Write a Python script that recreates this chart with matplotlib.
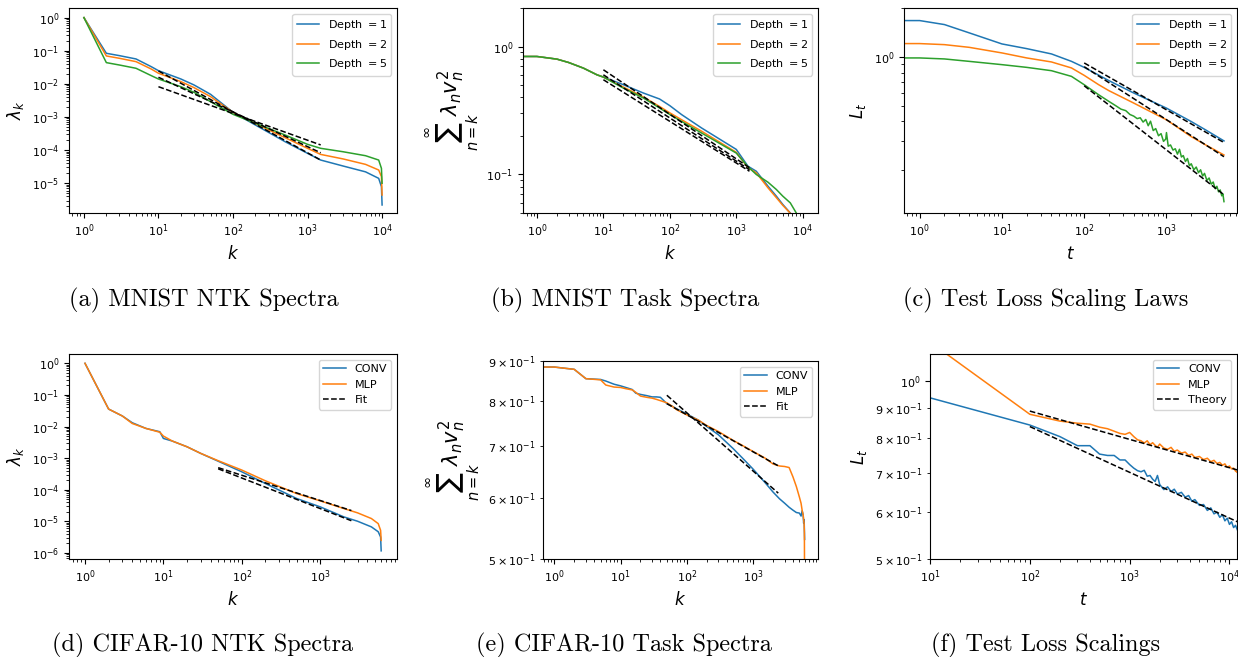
import matplotlib
matplotlib.use("Agg")
import matplotlib.pyplot as plt
from matplotlib.ticker import NullFormatter

# ---------------- (a) MNIST NTK spectra ----------------
k_a = [1, 2, 3, 5, 8, 10, 20, 30, 50, 100, 200, 500, 1000, 1500, 3000, 6000, 9000, 9800, 10000]
lam_a_d1 = [1, 0.0836, 0.071, 0.0564, 0.033, 0.025, 0.014, 0.00925, 0.00483, 0.00138, 5.7e-4, 1.79e-4,
            7.97e-5, 5.0e-5, 3.3e-5, 2.2e-5, 1.4e-5, 7.85e-6, 2.2e-6]
lam_a_d2 = [1, 0.0695, 0.059, 0.0468, 0.028, 0.0209, 0.01166, 0.00768, 0.0041, 0.00138, 6.3e-4, 2.37e-4,
            1.13e-4, 7.4e-5, 5.4e-5, 3.7e-5, 2.5e-5, 1.58e-5, 4.4e-6]
lam_a_d5 = [1, 0.0437, 0.037, 0.0295, 0.0177, 0.014, 0.0082, 0.00555, 0.0029, 0.0012, 6.45e-4, 2.85e-4,
            1.49e-4, 1.13e-4, 8.9e-5, 6.76e-5, 5.0e-5, 2.8e-5, 1.0e-5]
fit_a_k = [10, 1500]
fit_a = [[0.0245, 5.0e-5], [0.0158, 8.3e-5], [0.0082, 1.43e-4]]

# ---------------- (b) MNIST task spectra ----------------
k_b = [0, 1, 2, 3, 5, 8, 10, 20, 40, 70, 100, 150, 300, 1000, 1500, 2000, 3000, 4000, 5000, 6500]
task_b_d1 = [0.836, 0.836, 0.797, 0.75, 0.678, 0.601, 0.577, 0.503, 0.433, 0.389, 0.345, 0.294, 0.231,
             0.157, 0.116, 0.106, 0.081, 0.0678, 0.0584, 0.05]
task_b_d2 = [0.836, 0.836, 0.797, 0.75, 0.678, 0.601, 0.577, 0.482, 0.403, 0.34, 0.303, 0.268, 0.218,
             0.149, 0.113, 0.103, 0.0787, 0.066, 0.0575, 0.0498]
k_b5 = [0, 1, 2, 3, 5, 8, 10, 20, 40, 70, 100, 150, 300, 1000, 1500, 2000, 3000, 4000, 5000, 6500, 8000]
task_b_d5 = [0.836, 0.836, 0.797, 0.75, 0.678, 0.601, 0.577, 0.473, 0.396, 0.331, 0.294, 0.26, 0.211,
             0.147, 0.115, 0.1, 0.087, 0.0764, 0.0678, 0.06, 0.05]
fit_b_k = [10, 1580]
fit_b = [[0.658, 0.113], [0.601, 0.109], [0.55, 0.106]]

# ---------------- (c) test loss scaling laws ----------------
t_c = [0, 1, 2, 4, 10, 20, 40, 70, 100, 200, 400, 1000, 2000, 3000, 5000]
loss_c_d1 = [1.68, 1.68, 1.587, 1.41, 1.204, 1.126, 1.044, 0.939, 0.862, 0.713, 0.598, 0.482, 0.398, 0.353, 0.302]
t_c2 = [0, 1, 2, 4, 10, 20, 40, 70, 100, 150, 200, 400, 1000, 2000, 3000, 5000]
loss_c_d2 = [1.21, 1.21, 1.192, 1.147, 1.059, 0.986, 0.931, 0.855, 0.769, 0.673, 0.618, 0.518, 0.408,
             0.321, 0.285, 0.247]
t_c5 = [0, 1, 2, 4, 10, 20, 40, 70, 100, 150, 200, 240, 280, 320, 360, 400, 440, 480, 520, 560, 600,
        640, 690, 740, 800, 860, 920, 980, 1000, 1050, 1120, 1200, 1280, 1360, 1440, 1520, 1600, 1700,
        1800, 1900, 2000, 2150, 2300, 2450, 2600, 2750, 2900, 3100, 3300, 3500, 3700, 3900, 4100, 4300,
        4500, 4700, 4850, 5000]
loss_c_d5 = [0.986, 0.986, 0.972, 0.939, 0.896, 0.862, 0.822, 0.758, 0.673, 0.583, 0.53, 0.50, 0.475,
             0.465, 0.44, 0.43, 0.415, 0.42, 0.395, 0.41, 0.375, 0.40, 0.35, 0.36, 0.325, 0.335, 0.30,
             0.31, 0.34, 0.28, 0.285, 0.265, 0.27, 0.25, 0.268, 0.24, 0.245, 0.225, 0.235, 0.212, 0.218,
             0.2, 0.208, 0.192, 0.2, 0.183, 0.19, 0.172, 0.178, 0.163, 0.168, 0.153, 0.158, 0.146, 0.15,
             0.138, 0.142, 0.127]
fit_c_t = [100, 5000]
fit_c = [[0.918, 0.295], [0.87, 0.241], [0.663, 0.14]]

# ---------------- (d) CIFAR-10 NTK spectra ----------------
k_d = [1, 2, 3, 4, 6, 9, 10, 13, 20, 30, 50, 100, 200, 500, 1000, 2000, 3000, 4500, 5500, 5900, 6000]
lam_d_conv = [1, 0.0357, 0.0215, 0.0132, 0.0087, 0.00684, 0.0042, 0.00347, 0.00229, 0.00141, 8.0e-4,
              3.7e-4, 1.58e-4, 5.3e-5, 2.88e-5, 1.39e-5, 1.01e-5, 6.7e-6, 4.7e-6, 3.2e-6, 1.17e-6]
lam_d_mlp = [1, 0.0357, 0.0215, 0.0125, 0.0087, 0.0066, 0.005, 0.00347, 0.00229, 0.00141, 8.3e-4,
             4.2e-4, 1.92e-4, 7.6e-5, 4.46e-5, 2.55e-5, 1.86e-5, 1.23e-5, 8.5e-6, 5.2e-6, 2.5e-6]
fit_d_k = [50, 2500]
fit_d = [[5.0e-4, 2.2e-5], [4.6e-4, 1.05e-5]]

# ---------------- (e) CIFAR-10 task spectra ----------------
k_e = [0, 1, 2, 3, 5, 6, 8, 10, 12, 15, 17, 20, 25, 30, 35, 40, 50, 60, 70, 100, 150, 200, 300, 500,
       700, 1000, 1500, 2000, 2500, 3000, 3500, 4000, 4500, 5000, 5300, 5500, 5700, 5800, 5900, 5950, 6000]
task_e_conv = [0.884, 0.884, 0.878, 0.854, 0.852, 0.848, 0.840, 0.836, 0.832, 0.827, 0.818, 0.815, 0.812,
               0.809, 0.809, 0.808, 0.793, 0.787, 0.781, 0.769, 0.755, 0.741, 0.723, 0.694, 0.674, 0.653,
               0.628, 0.610, 0.598, 0.590, 0.583, 0.578, 0.574, 0.573, 0.568, 0.577, 0.570, 0.556, 0.562,
               0.545, 0.530]
task_e_mlp = [0.884, 0.884, 0.878, 0.854, 0.851, 0.838, 0.833, 0.832, 0.829, 0.826, 0.820, 0.811, 0.808,
              0.806, 0.803, 0.800, 0.795, 0.787, 0.779, 0.767, 0.755, 0.743, 0.730, 0.711, 0.700, 0.688,
              0.675, 0.663, 0.659, 0.658, 0.656, 0.638, 0.620, 0.601, 0.590, 0.578, 0.570, 0.562, 0.555,
              0.540, 0.45]
fit_e_k = [[50, 2400], [50, 2500]]
fit_e = [[0.813, 0.608], [0.793, 0.658]]

# ---------------- (f) test loss scalings ----------------
t_f = [10, 100, 200, 300, 400, 500, 600, 700, 800, 900, 1000, 1100, 1200, 1300, 1400, 1500, 1600, 1700,
       1800, 1900, 2000, 2200, 2400, 2600, 2800, 3000, 3300, 3600, 3900, 4200, 4500, 5000, 5500, 6000,
       6500, 7000, 7500, 8000, 8500, 9000, 9500, 10000, 10500, 11000, 11500, 12000]
loss_f_conv = [0.936, 0.842, 0.805, 0.777, 0.777, 0.752, 0.748, 0.748, 0.735, 0.735, 0.722, 0.712, 0.705,
               0.702, 0.706, 0.690, 0.692, 0.682, 0.676, 0.692, 0.668, 0.655, 0.662, 0.650, 0.656, 0.644,
               0.648, 0.636, 0.640, 0.626, 0.630, 0.616, 0.618, 0.604, 0.610, 0.596, 0.600, 0.588, 0.594,
               0.580, 0.586, 0.572, 0.578, 0.565, 0.570, 0.560]
loss_f_mlp = [1.163, 0.878, 0.855, 0.848, 0.845, 0.835, 0.830, 0.822, 0.815, 0.812, 0.818, 0.805, 0.795,
              0.792, 0.785, 0.792, 0.780, 0.786, 0.778, 0.772, 0.782, 0.770, 0.766, 0.772, 0.760, 0.764,
              0.755, 0.758, 0.748, 0.752, 0.742, 0.745, 0.736, 0.740, 0.730, 0.734, 0.725, 0.728, 0.720,
              0.724, 0.714, 0.718, 0.710, 0.712, 0.704, 0.700]
fit_f_t = [100, 12000]
fit_f = [[0.889, 0.707], [0.837, 0.578]]

depth_labels = ["Depth $=1$", "Depth $=2$", "Depth $=5$"]
captions = ["(a) MNIST NTK Spectra", "(b) MNIST Task Spectra", "(c) Test Loss Scaling Laws",
            "(d) CIFAR-10 NTK Spectra", "(e) CIFAR-10 Task Spectra", "(f) Test Loss Scalings"]

W, H = 1238, 657
lab_size = 12
sum_size = 15
tick_size = 8
lw = 1.1
sum_label = r'$\sum_{n=k}^{\infty} \lambda_n v_n^2$'

plt.rcParams.update({'font.size': 8, 'legend.fontsize': 8})

fig = plt.figure(figsize=(W / 100., H / 100.), dpi=100)


def add_ax(x0, y0, x1, y1):
    # pixel box -> figure fraction
    return fig.add_axes([x0 / W, 1 - y1 / H, (x1 - x0) / W, (y1 - y0) / H])


axs = [add_ax(69, 8, 397, 213), add_ax(523, 8, 818, 213), add_ax(904, 8, 1237, 213),
       add_ax(69, 354, 397, 559), add_ax(543, 361, 818, 559), add_ax(930, 354, 1237, 559)]

for ax in axs:
    ax.set_xscale('log')
    ax.set_yscale('log')
    ax.tick_params(labelsize=tick_size)

# (a)
ax = axs[0]
for ys, lab in zip([lam_a_d1, lam_a_d2, lam_a_d5], depth_labels):
    ax.plot(k_a, ys, lw=lw, label=lab)
for fy in fit_a:
    ax.plot(fit_a_k, fy, '--', c='black', lw=lw)
ax.set_xlim(10 ** -0.2, 10 ** 4.2)
ax.set_ylim(10 ** -5.9, 10 ** 0.29)
ax.set_xlabel(r'$k$', fontsize=lab_size)
ax.set_ylabel(r'$\lambda_k$', fontsize=lab_size)
ax.legend(loc='upper right')

# (b)
ax = axs[1]
ax.plot(k_b, task_b_d1, lw=lw, label=depth_labels[0])
ax.plot(k_b, task_b_d2, lw=lw, label=depth_labels[1])
ax.plot(k_b5, task_b_d5, lw=lw, label=depth_labels[2])
for fy in fit_b:
    ax.plot(fit_b_k, fy, '--', c='black', lw=lw)
ax.set_xlim(10 ** -0.21, 10 ** 4.23)
ax.set_ylim(0.05, 2.0)
ax.set_xlabel(r'$k$', fontsize=lab_size)
ax.set_ylabel(sum_label, fontsize=sum_size)
ax.legend(loc='upper right')

# (c)
ax = axs[2]
ax.plot(t_c, loss_c_d1, lw=lw, label=depth_labels[0])
ax.plot(t_c2, loss_c_d2, lw=lw, label=depth_labels[1])
ax.plot(t_c5, loss_c_d5, lw=lw, label=depth_labels[2])
for fy in fit_c:
    ax.plot(fit_c_t, fy, '--', c='black', lw=lw)
ax.set_xlim(0.645, 7200)
ax.set_ylim(0.108, 2.01)
ax.yaxis.set_minor_formatter(NullFormatter())
ax.set_xlabel(r'$t$', fontsize=lab_size)
ax.set_ylabel(r'$L_t$', fontsize=lab_size)
ax.legend(loc='upper right')

# (d)
ax = axs[3]
ax.plot(k_d, lam_d_conv, lw=lw, label='CONV')
ax.plot(k_d, lam_d_mlp, lw=lw, label='MLP')
ax.plot(fit_d_k, fit_d[0], '--', c='black', lw=lw, label='Fit')
ax.plot(fit_d_k, fit_d[1], '--', c='black', lw=lw)
ax.set_xlim(10 ** -0.204, 10 ** 3.98)
ax.set_ylim(10 ** -6.19, 10 ** 0.294)
ax.set_xlabel(r'$k$', fontsize=lab_size)
ax.set_ylabel(r'$\lambda_k$', fontsize=lab_size)
ax.legend(loc='upper right')

# (e)
ax = axs[4]
ax.plot(k_e, task_e_conv, lw=lw, label='CONV')
ax.plot(k_e, task_e_mlp, lw=lw, label='MLP')
ax.plot(fit_e_k[0], fit_e[0], '--', c='black', lw=lw, label='Fit')
ax.plot(fit_e_k[1], fit_e[1], '--', c='black', lw=lw)
ax.set_xlim(10 ** -0.17, 10 ** 3.98)
ax.set_ylim(0.5, 0.9)
ax.set_xlabel(r'$k$', fontsize=lab_size)
ax.set_ylabel(sum_label, fontsize=sum_size)
ax.legend(loc='upper right')

# (f)
ax = axs[5]
ax.plot(t_f, loss_f_conv, lw=lw, label='CONV')
ax.plot(t_f, loss_f_mlp, lw=lw, label='MLP')
ax.plot(fit_f_t, fit_f[0], '--', c='black', lw=lw, label='Theory')
ax.plot(fit_f_t, fit_f[1], '--', c='black', lw=lw)
ax.set_xlim(10, 11900)
ax.set_ylim(0.5, 1.11)
ax.set_xlabel(r'$t$', fontsize=lab_size)
ax.set_ylabel(r'$L_t$', fontsize=lab_size)
ax.legend(loc='upper right')

cap_pos = [(204, 300), (625, 300), (1046, 300), (203, 645), (624, 645), (1046, 645)]
for (cx, cy), cap in zip(cap_pos, captions):
    fig.text(cx / W, 1 - cy / H, cap, ha='center', va='center', fontsize=17.5, family='cmr10')

fig.savefig('out.png', dpi=100)
